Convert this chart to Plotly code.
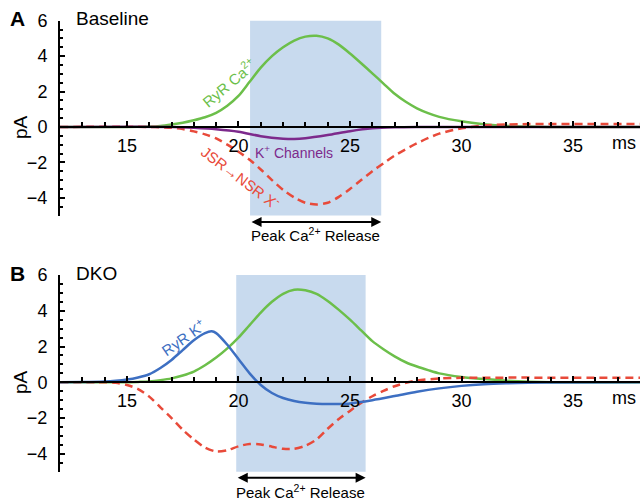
import plotly.graph_objects as go

# ---------------- data ----------------
# Panel A (Baseline)
a_ryr_ca_t = [12, 15, 16, 16.5, 17, 17.5, 18, 18.5, 19, 19.5, 20, 20.5, 21, 21.5, 22, 22.5, 23, 23.5,
              24, 24.5, 25, 25.5, 26, 26.5, 27, 27.5, 28, 28.5, 29, 30, 31, 32, 33, 34, 38]
a_ryr_ca = [0, 0, 0.02, 0.06, 0.14, 0.24, 0.38, 0.55, 0.8, 1.2, 1.75, 2.55, 3.35, 4.0, 4.5, 4.88, 5.1, 5.15,
            5.0, 4.65, 4.15, 3.6, 3.03, 2.45, 1.87, 1.42, 1.05, 0.78, 0.57, 0.32, 0.16, 0.06, 0.02, 0, 0]

a_k_t = [12, 17, 18, 19, 20, 21, 22, 22.5, 23, 24, 25, 26, 27, 28, 30, 38]
a_k = [0, 0, -0.05, -0.13, -0.27, -0.52, -0.66, -0.68, -0.64, -0.46, -0.24, -0.08, -0.02, 0, 0, 0]

a_jsr_t = [12, 16, 17, 17.5, 18, 18.5, 19, 19.5, 20, 20.5, 21, 21.5, 22, 22.5, 23, 23.5, 24, 24.5,
           25, 25.5, 26, 26.5, 27, 28, 29, 30, 31, 32, 33, 38]
a_jsr = [0, 0, -0.05, -0.12, -0.25, -0.42, -0.65, -1.0, -1.4, -1.85, -2.4, -3.0, -3.55, -3.98, -4.28, -4.38,
         -4.28, -3.95, -3.5, -3.0, -2.5, -2.05, -1.62, -0.92, -0.38, -0.08, 0.08, 0.14, 0.16, 0.16]

# Panel B (DKO)
b_ryr_ca_t = [12, 15, 15.5, 16, 16.5, 17, 17.5, 18, 18.5, 19, 19.5, 20, 20.5, 21, 21.5, 22, 22.5, 23, 23.5,
              24, 24.5, 25, 25.5, 26, 26.5, 27, 27.5, 28, 28.5, 29, 30, 31, 32, 33, 34, 38]
b_ryr_ca = [0, 0, 0.02, 0.05, 0.12, 0.22, 0.38, 0.6, 0.95, 1.38, 1.9, 2.5, 3.2, 3.9, 4.5, 4.95, 5.18, 5.15, 4.95,
            4.55, 4.05, 3.5, 2.9, 2.3, 1.85, 1.45, 1.12, 0.88, 0.68, 0.5, 0.3, 0.18, 0.09, 0.03, 0, 0]

b_ryr_k_t = [12, 13, 14, 14.5, 15, 15.5, 16, 16.5, 17, 17.5, 18, 18.5, 18.8, 19, 19.5, 20, 20.5, 21, 21.5,
             22, 22.5, 23, 23.5, 24, 24.5, 25, 26, 27, 28, 29, 30, 31, 32, 33, 34, 38]
b_ryr_k = [0, 0.01, 0.04, 0.08, 0.15, 0.27, 0.45, 0.8, 1.25, 1.8, 2.35, 2.75, 2.85, 2.75, 2.1, 1.3, 0.5, -0.15,
           -0.6, -0.88, -1.05, -1.15, -1.2, -1.22, -1.21, -1.18, -1.0, -0.77, -0.53, -0.34, -0.2, -0.11, -0.06,
           -0.03, -0.01, 0]

b_jsr_t = [12, 14, 14.5, 15, 15.5, 16, 16.5, 17, 17.5, 18, 18.5, 19, 19.5, 20, 20.5, 21, 21.5, 22, 22.5,
           23, 23.5, 24, 24.5, 25, 25.5, 26, 26.5, 27, 27.5, 28, 29, 30, 38]
b_jsr = [0, 0, -0.03, -0.15, -0.38, -0.8, -1.4, -2.0, -2.65, -3.2, -3.65, -3.87, -3.8, -3.58, -3.45, -3.48,
         -3.6, -3.72, -3.72, -3.55, -3.2, -2.6, -2.05, -1.6, -1.15, -0.78, -0.48, -0.22, -0.03, 0.1, 0.21,
         0.25, 0.25]

# peak Ca2+ release windows (ms)
a_window = [20.52, 26.4]
b_window = [19.9, 25.7]

x_range = [12, 38]
y_range = [-5, 6]
x_ticks = [15, 20, 25, 30, 35]
y_ticks = [-4, -2, 0, 2, 4, 6]

# ---------------- style ----------------
FONT = "Liberation Sans, Arial, Helvetica, sans-serif"
GREEN = "#6cbf4a"
PURPLE = "#7d2a8c"
RED = "#e84a3a"
BLUE = "#3d6fc2"
SHADE = "#c8daee"

W, H = 640, 500
ML, MR = 60, 0
PW = W - ML - MR
domA = [1 - 215.5 / H, 1 - 20.7 / H]
domB = [1 - 471.7 / H, 1 - 275.0 / H]


def zero_pos(dom):
    return dom[0] + (0 - y_range[0]) / (y_range[1] - y_range[0]) * (dom[1] - dom[0])


fig = go.Figure()

def line(t, v, color, xa, ya, dash=None, width=2.5):
    fig.add_trace(go.Scatter(x=t, y=v, mode="lines", xaxis=xa, yaxis=ya,
                             line=dict(color=color, width=width, shape="spline", smoothing=0.8,
                                       dash=dash), showlegend=False, hoverinfo="skip"))

line(a_ryr_ca_t, a_ryr_ca, GREEN, "x", "y")
line(a_jsr_t, a_jsr, RED, "x", "y", dash="8px,5px")
line(a_k_t, a_k, PURPLE, "x", "y")

line(b_ryr_ca_t, b_ryr_ca, GREEN, "x2", "y2")
line(b_jsr_t, b_jsr, RED, "x2", "y2", dash="8px,5px")
line(b_ryr_k_t, b_ryr_k, BLUE, "x2", "y2")

tickfont = dict(family=FONT, size=18, color="black")

def xaxis(dom_y):
    return dict(range=x_range, domain=[0, 1], anchor="free", position=zero_pos(dom_y),
                tickvals=x_ticks, ticks="inside", ticklen=5, tickwidth=1.5, tickcolor="black",
                minor=dict(dtick=1, ticks="inside", ticklen=4, tickwidth=1.5, tickcolor="black"),
                showline=True, linewidth=2, linecolor="black", showgrid=False, zeroline=False,
                tickfont=tickfont, ticklabelstandoff=2, automargin=False)

def yaxis(dom, xa):
    return dict(range=y_range, domain=dom, anchor=xa, tickvals=y_ticks, ticks="inside", ticklen=5,
                tickwidth=1.5, tickcolor="black",
                minor=dict(dtick=0.5, ticks="inside", ticklen=3, tickwidth=1.5, tickcolor="black"),
                showline=True, linewidth=2, linecolor="black", showgrid=False, zeroline=False,
                tickfont=tickfont, ticklabelstandoff=7, automargin=False)

fig.update_layout(
    width=W, height=H, autosize=False,
    margin=dict(l=ML, r=MR, t=0, b=0, pad=0),
    paper_bgcolor="white", plot_bgcolor="white",
    xaxis=xaxis(domA), yaxis=yaxis(domA, "x"),
    xaxis2=xaxis(domB), yaxis2=yaxis(domB, "x2"),
    showlegend=False,
)

shapes = []
for win, xr, yr in [(a_window, "x", "y"), (b_window, "x2", "y2")]:
    shapes.append(dict(type="rect", xref=xr, yref=yr, x0=win[0], x1=win[1], y0=-5.08, y1=6.05,
                       fillcolor=SHADE, line=dict(width=0), layer="below"))
fig.update_layout(shapes=shapes)

ann = []
def text(x, y, s, xr, yr, size=14, color="black", angle=0, bold=False, xanchor="center"):
    ann.append(dict(x=x, y=y, xref=xr, yref=yr, text=("<b>%s</b>" % s) if bold else s, showarrow=False,
                    font=dict(family=FONT, size=size, color=color), textangle=angle, xanchor=xanchor,
                    yanchor="middle"))

# paper coords (plot area) from figure pixels
def px(xp):
    return (xp - ML) / PW
def py(yp):
    return 1 - yp / H

text(px(17), py(18), "A", "paper", "paper", size=21, bold=True)
text(px(17), py(273), "B", "paper", "paper", size=21, bold=True)
text(px(74), py(18), "Baseline", "paper", "paper", size=19, xanchor="left")
text(px(74), py(273), "DKO", "paper", "paper", size=19, xanchor="left")
text(px(20), py(127), "pA", "paper", "paper", size=19, angle=-90)
text(px(20), py(382), "pA", "paper", "paper", size=19, angle=-90)
text(px(624), py(143), "ms", "paper", "paper", size=18)
text(px(624), py(398), "ms", "paper", "paper", size=18)

# curve labels
text(px(228), py(82), "RyR Ca<sup>2+</sup>", "paper", "paper", size=15, color=GREEN, angle=-40)
text(px(294), py(152), "K<sup>+</sup> Channels", "paper", "paper", size=14, color=PURPLE)
text(px(241), py(176), "JSR→NSR X<sup>-</sup>", "paper", "paper", size=15, color=RED, angle=37)
text(px(182), py(337), "RyR K<sup>+</sup>", "paper", "paper", size=15, color=BLUE, angle=-35)

# peak release arrows (x in data units, y in paper units below each panel)
for win, xr, yarr, ytxt in [(a_window, "x", 222.0, 234.5), (b_window, "x2", 477.7, 491.0)]:
    ann.append(dict(x=win[1], y=py(yarr), xref=xr, yref="paper", ax=win[0], ay=0, axref=xr,
                    ayref="pixel", text="", showarrow=True, arrowhead=2, arrowside="end+start",
                    arrowsize=1, arrowwidth=2, arrowcolor="black", standoff=0, startstandoff=0))
    text((win[0] + win[1]) / 2, py(ytxt), "Peak Ca<sup>2+</sup> Release", xr, "paper", size=15)

fig.update_layout(annotations=ann)

fig.write_html("out.html", config={"displayModeBar": False},
               post_script="document.body.style.margin='0';document.body.style.padding='0';")
